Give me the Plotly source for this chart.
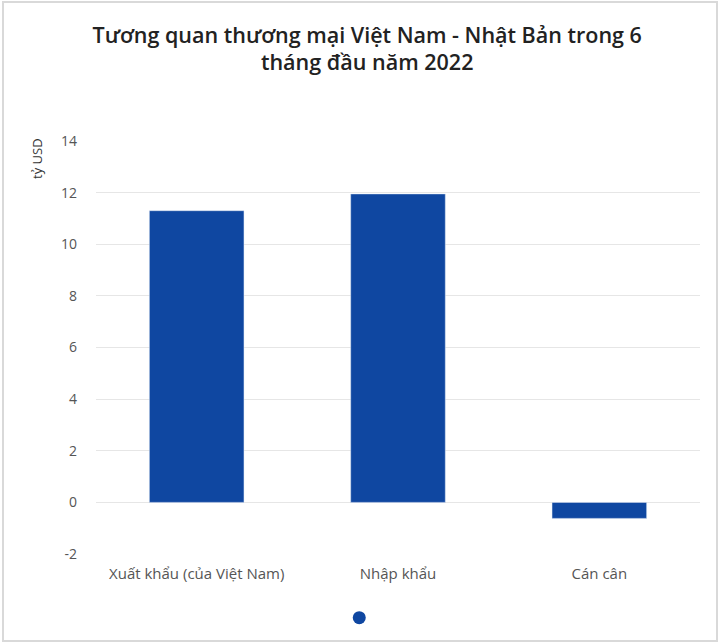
import plotly.graph_objects as go

categories = ["Xuất khẩu (của Việt Nam)", "Nhập khẩu", "Cán cân"]
values = [11.3, 11.95, -0.62]
y_ticks = [-2, 0, 2, 4, 6, 8, 10, 12, 14]
y_tick_labels = ["-2", "0", "2", "4", "6", "8", "10", "12", "14"]

bar_color = "#0f47a1"

fig = go.Figure()
fig.add_trace(go.Bar(x=categories, y=values, marker_color=bar_color, width=0.47,
                     showlegend=False))
# legend only shows a round dot, no text
fig.add_trace(go.Scatter(x=[None], y=[None], mode="markers", name="",
                         marker=dict(color=bar_color, size=13, symbol="circle")))

fig.update_layout(
    width=720, height=644,
    margin=dict(l=96, r=20, t=141, b=90, autoexpand=False),
    paper_bgcolor="white", plot_bgcolor="white",
    title=dict(text="Tương quan thương mại Việt Nam - Nhật Bản trong 6<br>tháng đầu năm 2022",
               x=0.51, xanchor="center", y=0.934, yanchor="middle",
               font=dict(family="Open Sans", size=21.5, color="#222222", weight=600)),
    font=dict(family="Open Sans", size=14, color="#555555"),
    showlegend=True,
    legend=dict(orientation="h", x=0.44, xanchor="center", y=-0.119, yanchor="top",
                font=dict(size=1), itemwidth=30, bgcolor="rgba(0,0,0,0)"),
)
fig.update_yaxes(range=[-2, 14], tickvals=y_ticks, ticktext=y_tick_labels,
                 showgrid=True, gridcolor="#e6e6e6",
                 zeroline=False, showline=False, ticks="", ticklabelstandoff=18)
fig.update_xaxes(showline=False, ticks="", showgrid=False, ticklabelstandoff=9,
                 tickfont=dict(size=15))

fig.add_annotation(text="tỷ USD", xref="paper", yref="paper", x=-59/604, y=1 - 18/413,
                   xanchor="center", yanchor="middle",
                   textangle=-90, showarrow=False, font=dict(size=13, color="#333333"))

fig.add_shape(type="rect", xref="paper", yref="paper",
              x0=-93/604, x1=1 + 17/604, y0=-87/413, y1=1 + 139/413,
              line=dict(color="#d9d9d9", width=2), layer="below")

fig.write_html("out.html", config={"displayModeBar": False},
               post_script="document.body.style.margin='0';document.body.style.overflow='hidden';")
